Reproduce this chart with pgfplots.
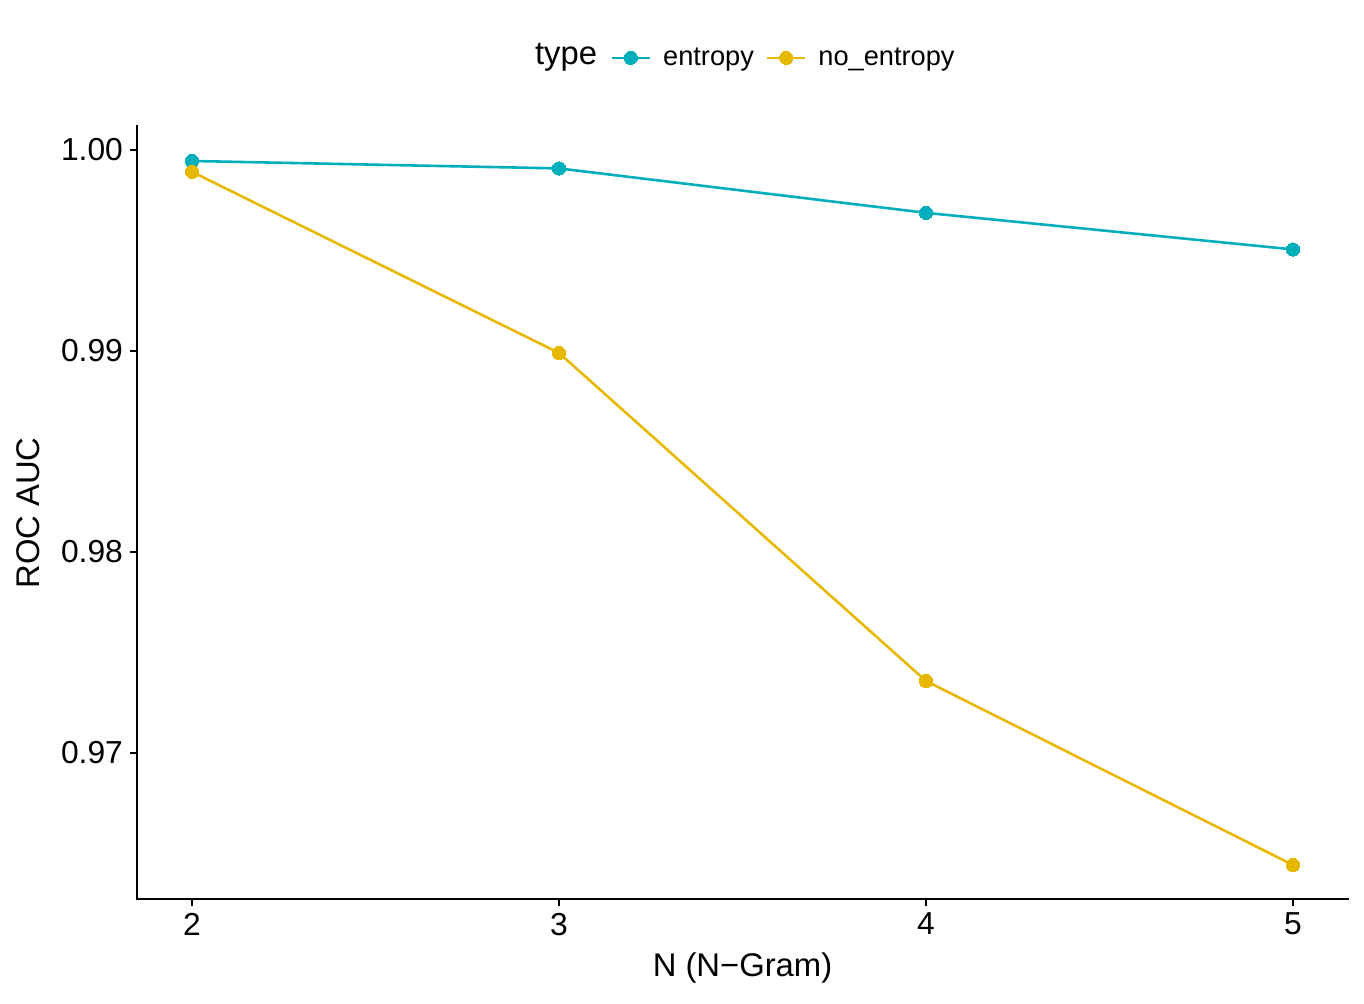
\documentclass[border=0pt]{standalone}
\usepackage{pgfplots}
\pgfplotsset{compat=1.18}
\usepackage{fontspec}
\setmainfont{Liberation Sans}
\definecolor{cEnt}{HTML}{00AFBB}
\definecolor{cNo}{HTML}{E7B800}
\begin{document}
\begin{tikzpicture}
\begin{axis}[
  at={(0pt,0pt)}, anchor=south west,
  scale only axis, width=605.5pt, height=386pt,
  xmin=1.85, xmax=5.15,
  ymin=0.962736, ymax=1.001144,
  axis x line*=bottom, axis y line*=left,
  axis line style={-, line width=1.45pt, line cap=rect},
  xtick={2,3,4,5}, ytick={0.97,0.98,0.99,1.00},
  tick align=outside, major tick length=3.5pt,
  tick style={line width=1.3pt, black},
  /pgf/number format/assume math mode=true,
  yticklabel style={/pgf/number format/.cd, fixed, fixed zerofill, precision=2},
  ticklabel style={font=\fontsize{15.9}{18}\selectfont, text=black},
  xlabel={N (N−Gram)}, ylabel={ROC AUC},
  label style={font=\fontsize{16.4}{19}\selectfont},
  xlabel style={at={(axis description cs:0.5,-0.0894)}, anchor=center},
  ylabel style={at={(axis description cs:-0.0900,0.5)}, anchor=center},
  legend columns=2,
  legend style={at={(axis description cs:0.5335,1.0895)}, anchor=center,
    draw=none, fill=none, font=\fontsize{13.6}{16}\selectfont,
    column sep=0pt, inner sep=0pt, nodes={inner sep=0.5pt},
    /tikz/every odd column/.append style={column sep=5.5pt},
    /tikz/every even column/.append style={column sep=5.5pt}},
  legend image code/.code={\draw[mark repeat=2,mark phase=2,#1] plot coordinates {(0pt,0pt) (9.5pt,0pt) (19pt,0pt)};},
]
\addplot[cEnt, line width=1.3pt, mark=*, mark size=3.3pt, mark options={solid, draw=cEnt, fill=cEnt, line width=0pt}]
  coordinates {(2,0.99945) (3,0.99908) (4,0.99687) (5,0.99505)};
\addlegendentry{entropy}
\addplot[cNo, line width=1.3pt, mark=*, mark size=3.3pt, mark options={solid, draw=cNo, fill=cNo, line width=0pt}]
  coordinates {(2,0.99891) (3,0.98990) (4,0.97358) (5,0.96443)};
\addlegendentry{no\_entropy}
\end{axis}
\node[anchor=base, font=\fontsize{16.4}{19}\selectfont] at (214.5pt,417.3pt) {type};
\path[use as bounding box] (-68.5pt,-52pt) rectangle (613.5pt,449.5pt);
\end{tikzpicture}
\end{document}
